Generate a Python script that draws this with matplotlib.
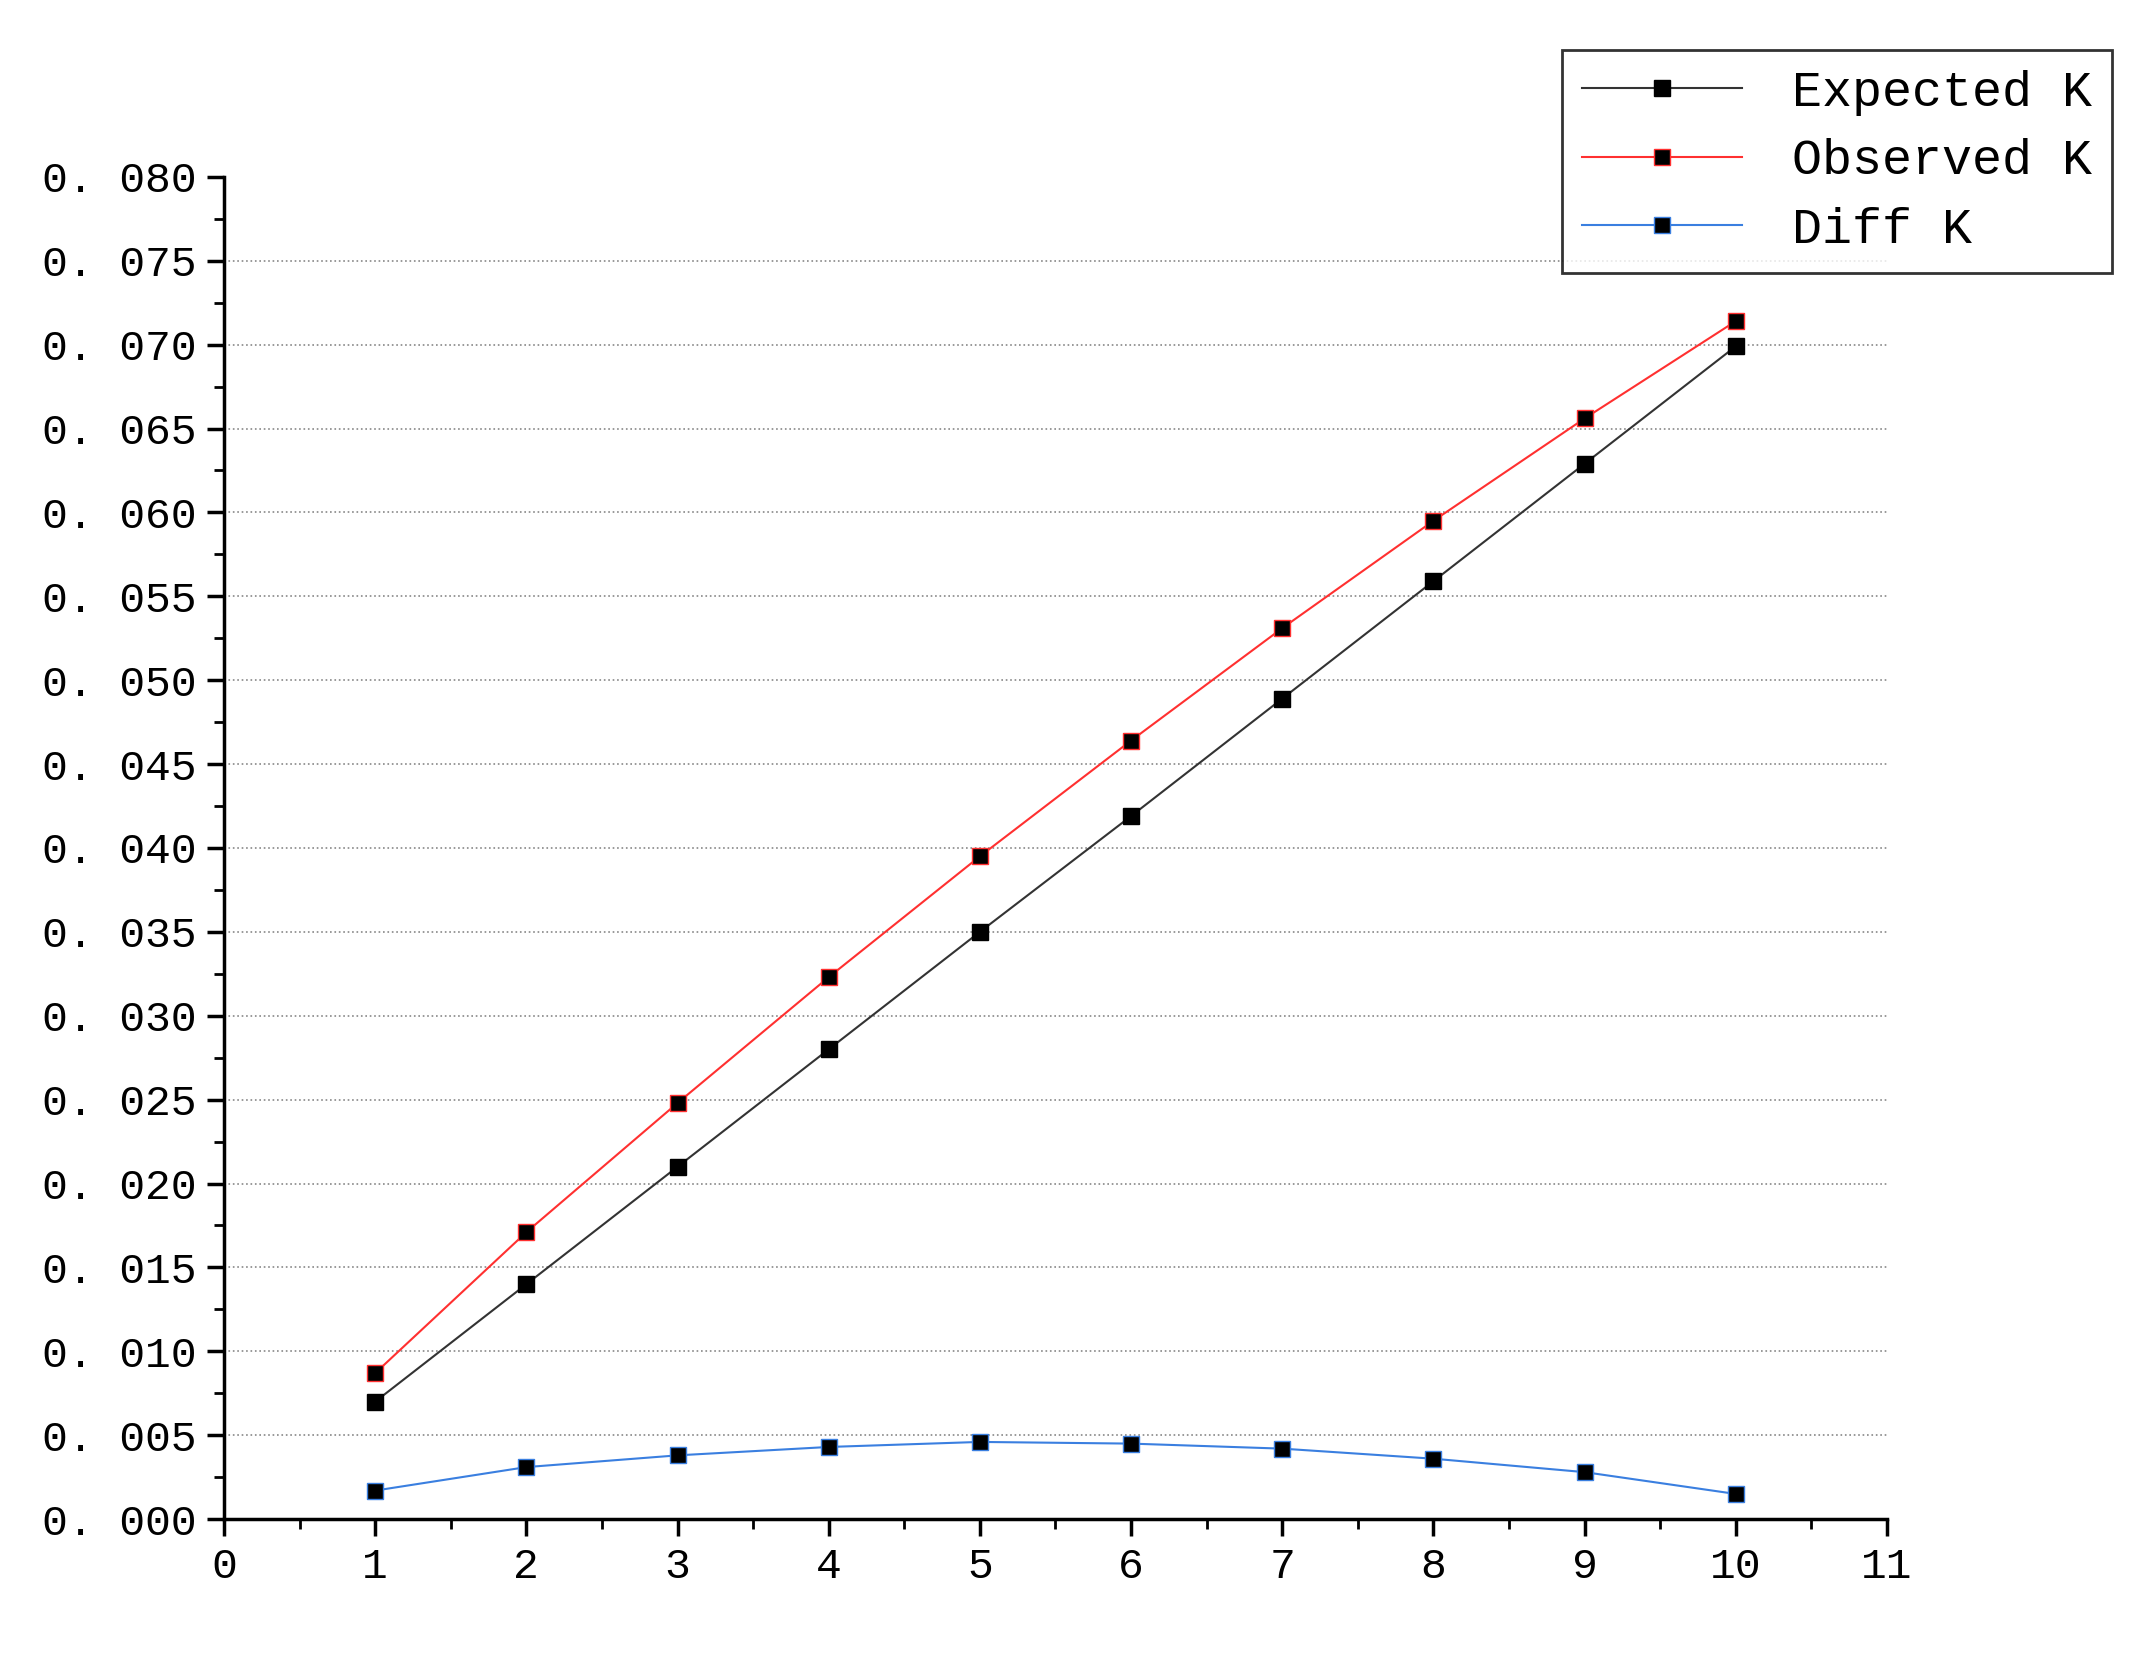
import matplotlib
matplotlib.use('agg')
import matplotlib.pyplot as plt
from matplotlib.ticker import MultipleLocator, FuncFormatter

x = [1, 2, 3, 4, 5, 6, 7, 8, 9, 10]
expected_k = [0.0070, 0.0140, 0.0210, 0.0280, 0.0350, 0.0419, 0.0489, 0.0559, 0.0629, 0.0699]
observed_k = [0.0087, 0.0171, 0.0248, 0.0323, 0.0395, 0.0464, 0.0531, 0.0595, 0.0656, 0.0714]
diff_k = [0.0017, 0.0031, 0.0038, 0.0043, 0.0046, 0.0045, 0.0042, 0.0036, 0.0028, 0.0015]

plt.rcParams['font.family'] = ['Liberation Mono', 'DejaVu Sans Mono']

fig = plt.figure(figsize=(21.54, 16.53), dpi=100)
ax = fig.add_axes([0.104, 0.081, 0.772, 0.812])

ax.plot(x, expected_k, color='#333333', lw=1.5, marker='s', ms=11, mfc='black', mec='black', label='Expected K')
ax.plot(x, observed_k, color='#ff3030', lw=1.5, marker='s', ms=11, mfc='black', mec='#ff3030', label='Observed K')
ax.plot(x, diff_k, color='#3a7fe0', lw=1.5, marker='s', ms=11, mfc='black', mec='#3a7fe0', label='Diff K')

ax.set_xlim(0, 11)
ax.set_ylim(0, 0.080)
ax.xaxis.set_major_locator(MultipleLocator(1))
ax.xaxis.set_minor_locator(MultipleLocator(0.5))
ax.yaxis.set_major_locator(MultipleLocator(0.005))
ax.yaxis.set_minor_locator(MultipleLocator(0.0025))
ax.yaxis.set_major_formatter(FuncFormatter(lambda v, p: ('%.3f' % v).replace('.', '. ')))

# dotted grid on the inner major y ticks only (none at the top)
for v in [i * 0.005 for i in range(1, 16)]:
	ax.axhline(v, color='#888888', linestyle=':', lw=1.2, zorder=0)

for s in ['top', 'right']:
	ax.spines[s].set_visible(False)
for s in ['left', 'bottom']:
	ax.spines[s].set_linewidth(2.5)
ax.tick_params(which='major', direction='out', length=12, width=2.5, labelsize=31, pad=8)
ax.tick_params(which='minor', direction='out', length=7, width=2)

leg = fig.legend(loc='upper right', bbox_to_anchor=(0.992, 0.985), fontsize=36,
	frameon=True, fancybox=False, edgecolor='black', handlelength=3.2, handletextpad=1.0,
	borderpad=0.4, labelspacing=0.45)
leg.get_frame().set_linewidth(2)

fig.savefig('out.png')
